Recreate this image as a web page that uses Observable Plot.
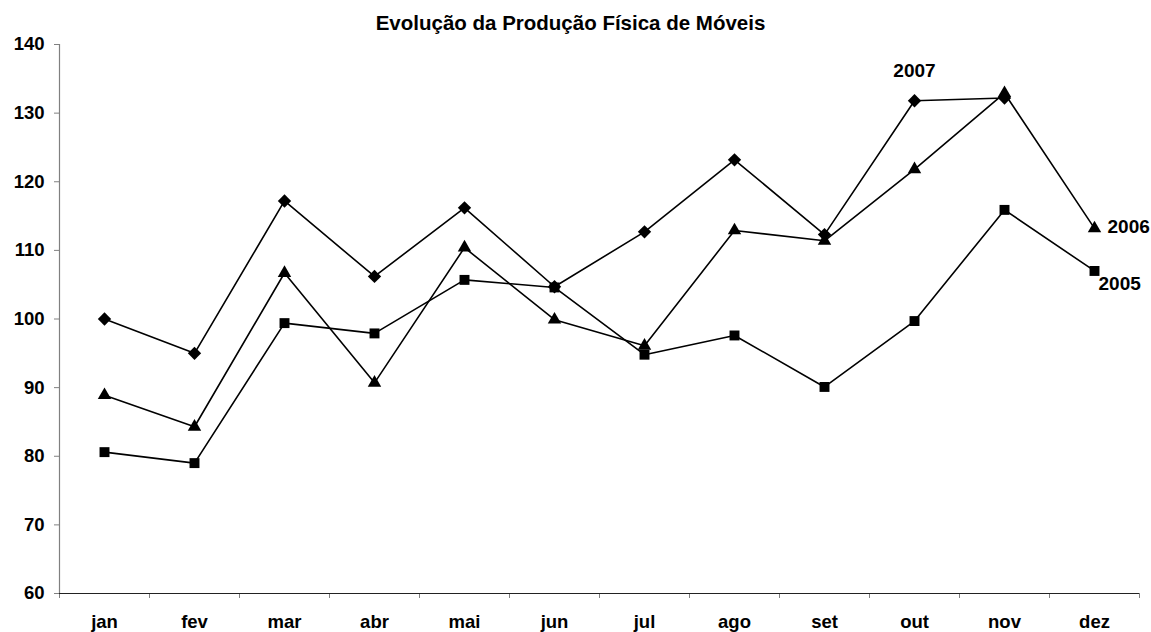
<!DOCTYPE html>
<html>
<head>
<meta charset="utf-8">
<script src="https://cdn.jsdelivr.net/npm/d3@7"></script>
<script src="https://cdn.jsdelivr.net/npm/@observablehq/plot@0.6"></script>
<style>
  html, body { margin: 0; padding: 0; background: #fff; }
  svg { font-family: "Liberation Sans", Arial, sans-serif; }
</style>
</head>
<body>
<div id="chart"></div>
<script>
const title = "Evolução da Produção Física de Móveis";
const months = ["jan","fev","mar","abr","mai","jun","jul","ago","set","out","nov","dez"];
const yTicks = [60, 70, 80, 90, 100, 110, 120, 130, 140];
const s2005 = [80.6, 79.0, 99.4, 97.9, 105.7, 104.6, 94.8, 97.6, 90.1, 99.7, 115.9, 107.0];
const s2006 = [88.9, 84.3, 106.7, 90.7, 110.4, 99.9, 96.1, 112.9, 111.4, 121.8, 132.9, 113.2];
const s2007 = [100.0, 95.0, 117.2, 106.2, 116.2, 104.7, 112.7, 123.2, 112.3, 131.8, 132.2, null];

const series = [
  {year: "2005", values: s2005, symbol: "square", r: 5.6},
  {year: "2006", values: s2006, symbol: "triangle", r: 5.0},
  {year: "2007", values: s2007, symbol: "diamond2", r: 6.0}
];
const data = series.flatMap(s => s.values.map((v, i) => ({i, v, year: s.year})).filter(d => d.v != null));
const boundaries = d3.range(months.length + 1).map(k => k - 0.5);

// label anchors: series label attached to a data point
const lab2007 = [{i: 9, v: s2007[9], t: "2007"}];
const lab2006 = [{i: 11, v: s2006[11], t: "2006"}];
const lab2005 = [{i: 11, v: s2005[11], t: "2005"}];

const font = {fontSize: 19, fontWeight: "bold", fill: "black"};

const chart = Plot.plot({
  width: 1151,
  height: 632,
  marginLeft: 59,
  marginRight: 12,
  marginTop: 44,
  marginBottom: 39,
  x: {domain: [-0.5, months.length - 0.5], axis: null},
  y: {domain: [60, 140], axis: null},
  style: {fontFamily: "'Liberation Sans', Arial, sans-serif", background: "white"},
  marks: [
    Plot.axisY({ticks: yTicks, tickSize: 5, tickPadding: 10, fontSize: 18.5, fontWeight: "bold", color: "black", label: null}),
    Plot.axisX({ticks: boundaries, tickSize: 5, tickFormat: () => "", color: "black", label: null}),
    Plot.axisX({ticks: d3.range(months.length), tickSize: 0, tickPadding: 21, tickFormat: i => months[i], fontSize: 18.5, fontWeight: "bold", color: "black", label: null}),
    Plot.ruleX([-0.5], {stroke: "#808080", strokeWidth: 1.2}),
    Plot.ruleY([60], {stroke: "#222", strokeWidth: 1.2}),
    Plot.line(data, {x: "i", y: "v", z: "year", stroke: "black", strokeWidth: 1.6}),
    ...series.map(s => Plot.dot(data.filter(d => d.year === s.year), {x: "i", y: "v", symbol: () => s.symbol, fill: "black", stroke: "none", r: s.r})),
    Plot.text(lab2007, {x: "i", y: "v", text: "t", dx: 0, dy: -30, ...font}),
    Plot.text(lab2006, {x: "i", y: "v", text: "t", dx: 13, dy: -2, textAnchor: "start", ...font}),
    Plot.text(lab2005, {x: "i", y: "v", text: "t", dx: 4, dy: 13, textAnchor: "start", ...font}),
    Plot.text([title], {frameAnchor: "top", lineAnchor: "middle", dx: -29, dy: -21, text: d => d, ...font, fontSize: 20.5})
  ]
});
d3.select(chart).selectAll('[aria-label="y-axis tick"]').attr("stroke", "#808080");
d3.select(chart).selectAll('[aria-label="x-axis tick"]').attr("stroke", "#808080");
document.getElementById("chart").appendChild(chart);
</script>
</body>
</html>
